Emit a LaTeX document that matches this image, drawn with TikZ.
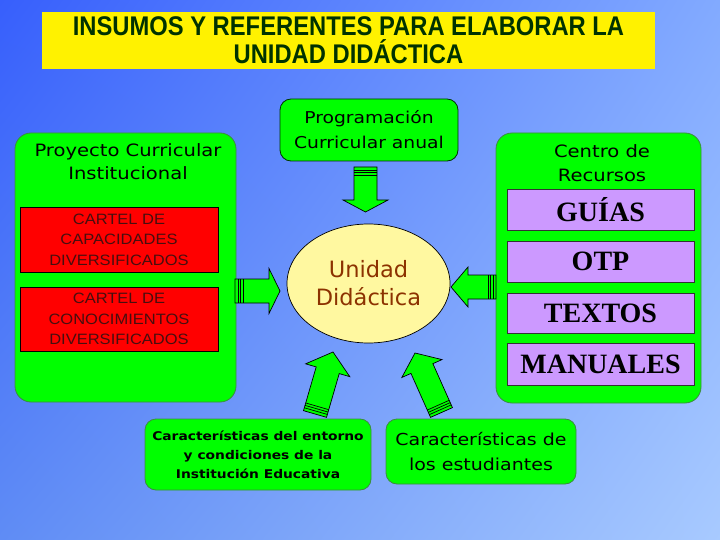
\documentclass[tikz,border=0pt]{standalone}
\usepackage{graphicx}
\usepackage{fontspec}
\setmainfont{DejaVu Sans}
\newfontfamily\comic[FakeStretch=1.15]{DejaVu Sans}
\newfontfamily\titlefont{Liberation Sans}
\newfontfamily\armfont[FakeStretch=1.1]{Liberation Sans}
\newfontfamily\timesfont{Liberation Serif}
\usetikzlibrary{calc,shadings,shapes.geometric}
\definecolor{bggreen}{HTML}{00FF00}
\definecolor{boxedge}{RGB}{60,140,60}
\definecolor{titlegreen}{RGB}{0,50,0}
\definecolor{cartelred}{HTML}{FF0000}
\definecolor{carteltext}{RGB}{70,15,15}
\definecolor{lila}{HTML}{CC99FF}
\definecolor{elfill}{HTML}{FFF8A0}
\definecolor{udbrown}{RGB}{140,50,0}
\definecolor{bgul}{RGB}{55,95,252}
\definecolor{bgur}{RGB}{130,170,255}
\definecolor{bgll}{RGB}{95,140,245}
\definecolor{bglr}{RGB}{168,202,255}
\tikzset{
  greenbox/.style={fill=bggreen, draw=boxedge, line width=0.8pt, rounded corners=16pt, inner sep=0pt},
  smallgreen/.style={fill=bggreen, draw=boxedge, line width=0.8pt, rounded corners=11pt, inner sep=0pt},
  redbox/.style={fill=cartelred, draw=black, line width=0.7pt, minimum width=198pt, inner sep=0pt},
  lilabox/.style={fill=lila, draw=black!80, line width=0.7pt, minimum width=187pt, inner sep=0pt},
  lilatext/.style={font=\timesfont\bfseries\fontsize{28}{28}\selectfont},
  carteltxt/.style={align=center, text=carteltext, font=\armfont\fontsize{15}{20.5}\selectfont},
  fatarrow/.style={fill=bggreen, draw=black, line width=0.7pt, line join=miter},
}
% tail, tip, half shaft, half head, head length
\newcommand\blockarrow[5]{%
  \coordinate (bt) at (#1);
  \coordinate (bp) at (#2);
  \coordinate (bb) at ($(bp)!#5!(bt)$);
  \filldraw[fatarrow] ($(bt)!#3!90:(bp)$) -- ($(bb)!#3!-90:(bt)$) -- ($(bb)!#4!-90:(bt)$)
     -- (bp) -- ($(bb)!#4!90:(bt)$) -- ($(bb)!#3!90:(bt)$) -- ($(bt)!#3!-90:(bp)$) -- cycle;
  \foreach \k in {3pt,5.5pt,8pt}{
    \coordinate (bs) at ($(bt)!\k!(bp)$);
    \draw[line width=0.7pt] ($(bs)!#3!90:(bp)$) -- ($(bs)!#3!-90:(bp)$);
  }
}
\begin{document}
\begin{tikzpicture}[x=1pt,y=-1pt]
\useasboundingbox (0,0) rectangle (720,540);
\shade[upper left=bgul, upper right=bgur, lower left=bgll, lower right=bglr] (0,0) rectangle (720,540);

% title
\node[fill=yellow, minimum width=613pt, minimum height=57pt, inner sep=0pt, align=center,
      text=titlegreen, font=\titlefont\bfseries\fontsize{27}{28}\selectfont] (title) at (348.5,40.5)
  {\scalebox{0.88}[1]{INSUMOS Y REFERENTES PARA ELABORAR LA}\\\scalebox{0.88}[1]{UNIDAD DIDÁCTICA}};

% left box
\node[greenbox, minimum width=221pt, minimum height=269pt] (pci) at (125.5,267.5) {};
\node[align=center, font=\comic\fontsize{17}{23}\selectfont] (pcit) at (128,162) {Proyecto Curricular\\Institucional};
\node[redbox, minimum height=65pt] (cap) at (119,239.5) {};
\node[carteltxt] at (cap) {CARTEL DE\\CAPACIDADES\\DIVERSIFICADOS};
\node[redbox, minimum height=64pt] (con) at (119,319) {};
\node[carteltxt] at (con) {CARTEL DE\\CONOCIMIENTOS\\DIVERSIFICADOS};

% programacion
\node[smallgreen, draw=titlegreen, minimum width=178pt, minimum height=62pt, align=center,
      font=\comic\fontsize{16.3}{25}\selectfont] (prog) at (369,130) {Programación\\Curricular anual};

% unidad didactica
\node[ellipse, fill=elfill, draw=black, line width=0.7pt, minimum width=163pt, minimum height=119pt,
      inner sep=0pt, align=center, text=udbrown, font=\fontsize{22.5}{28}\selectfont] (ud) at (368.5,283.5)
  {Unidad\\Didáctica};

% right box
\node[greenbox, minimum width=205pt, minimum height=270pt] (cr) at (598.5,268) {};
\node[align=center, font=\comic\fontsize{17}{24}\selectfont] (crt) at (602,163) {Centro de\\Recursos};
\node[lilabox, minimum height=41pt, lilatext] (guias) at (600.5,209.5) {GUÍAS};
\node[lilabox, minimum height=41pt, lilatext] (otp) at (600.5,261.5) {OTP};
\node[lilabox, minimum height=40pt, lilatext] (textos) at (600.5,313) {TEXTOS};
\node[lilabox, minimum height=42pt, lilatext] (manuales) at (600.5,364) {MANUALES};

% bottom boxes
\node[smallgreen, minimum width=226pt, minimum height=71pt, align=center,
      font=\comic\bfseries\fontsize{12}{19}\selectfont] (ent) at (258,454.5)
  {Características del entorno\\y condiciones de la\\Institución Educativa};
\node[smallgreen, minimum width=190pt, minimum height=65pt, align=center,
      font=\comic\fontsize{16.5}{25}\selectfont] (est) at (481,451.5)
  {Características de\\los estudiantes};

% arrows
\blockarrow{365.5,167}{365.5,212}{11.5pt}{22.5pt}{12pt}
\blockarrow{235,291}{280,291}{12pt}{22.5pt}{11pt}
\blockarrow{496,287}{451,287}{12pt}{20pt}{17pt}
\blockarrow{315,414}{333,352}{12pt}{23pt}{19pt}
\blockarrow{441.5,412.5}{415,353}{12pt}{22pt}{17pt}
\end{tikzpicture}
\end{document}
